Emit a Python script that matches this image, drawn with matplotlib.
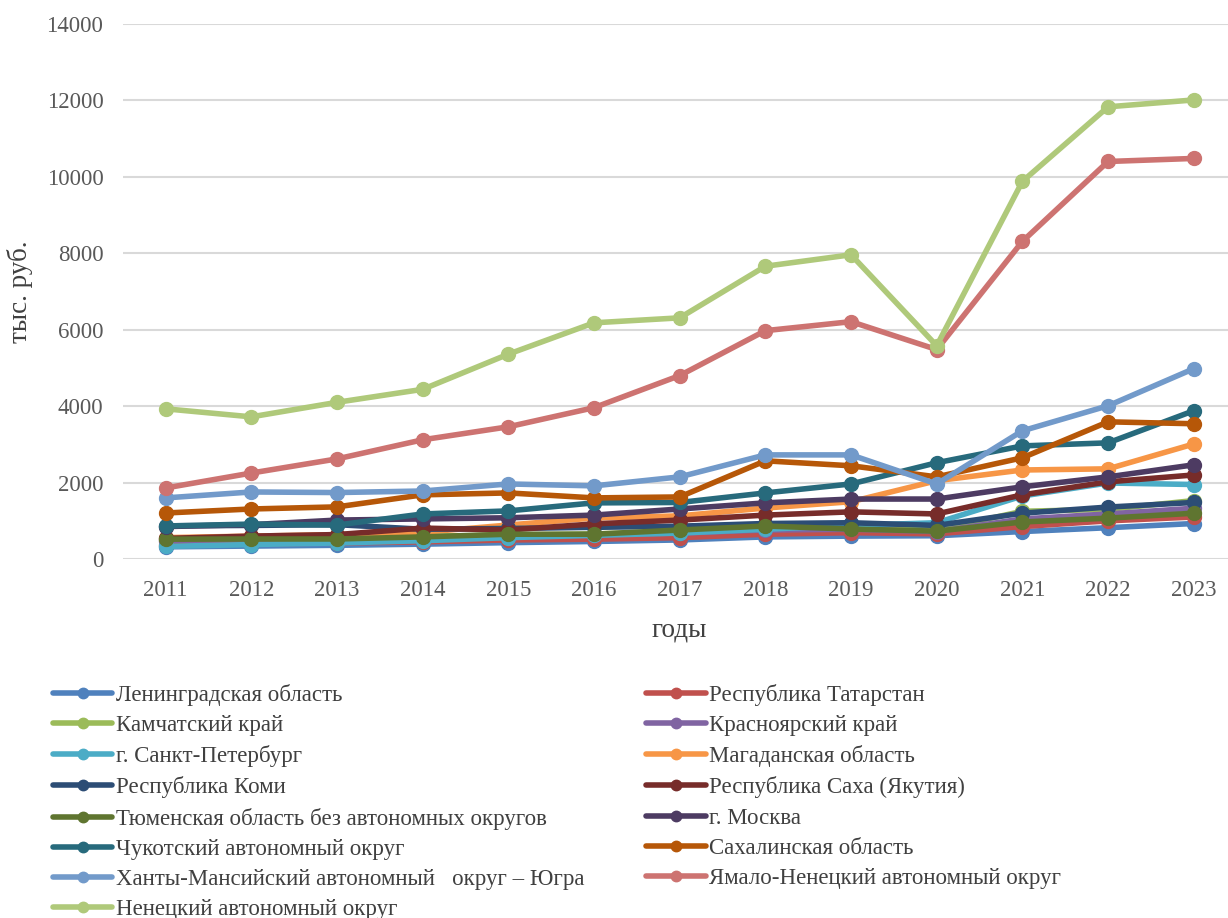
import matplotlib.pyplot as plt
import numpy as np

plt.rcParams["font.family"] = ["Liberation Serif", "DejaVu Serif"]

years = [str(y) for y in range(2011, 2024)]

# тыс. руб. по регионам, 2011-2023
leningrad = [320, 340, 360, 390, 430, 460, 500, 580, 600, 610, 720, 820, 930]
tatarstan = [380, 400, 420, 450, 500, 520, 560, 650, 690, 660, 850, 1000, 1100]
kamchatka = [500, 540, 570, 600, 620, 660, 700, 800, 820, 760, 1250, 1300, 1530]
krasnoyarsk = [480, 520, 540, 570, 600, 640, 680, 760, 780, 720, 1050, 1180, 1330]
spb = [330, 380, 420, 480, 560, 620, 680, 780, 880, 950, 1650, 1990, 1950]
magadan = [560, 600, 640, 700, 890, 1075, 1130, 1335, 1500, 2050, 2330, 2360, 3010]
komi = [870, 880, 900, 780, 800, 830, 860, 930, 950, 880, 1200, 1360, 1480]
sakha = [540, 600, 640, 810, 760, 920, 1020, 1150, 1235, 1180, 1680, 2020, 2200]
tyumen = [520, 525, 525, 580, 650, 650, 760, 865, 785, 730, 970, 1070, 1200]
moscow = [850, 900, 1020, 1050, 1080, 1150, 1310, 1470, 1570, 1570, 1890, 2150, 2465]
chukotka = [865, 915, 890, 1180, 1260, 1470, 1480, 1730, 1965, 2520, 2960, 3040, 3880]
sakhalin = [1205, 1310, 1365, 1680, 1730, 1600, 1625, 2570, 2440, 2150, 2650, 3590, 3540]
khmao = [1600, 1755, 1740, 1780, 1965, 1915, 2150, 2725, 2725, 1965, 3355, 4010, 4980]
yamal = [1860, 2250, 2620, 3120, 3460, 3960, 4800, 5975, 6210, 5480, 8310, 10400, 10480]
nenets = [3930, 3720, 4100, 4440, 5360, 6180, 6310, 7660, 7960, 5580, 9880, 11830, 12010]

series = [
    ("Ленинградская область", leningrad, "#4F81BD"),
    ("Республика Татарстан", tatarstan, "#C0504D"),
    ("Камчатский край", kamchatka, "#9BBB59"),
    ("Красноярский край", krasnoyarsk, "#8064A2"),
    ("г. Санкт-Петербург", spb, "#4BACC6"),
    ("Магаданская область", magadan, "#F79646"),
    ("Республика Коми", komi, "#2C4D75"),
    ("Республика Саха (Якутия)", sakha, "#772C2A"),
    ("Тюменская область без автономных округов", tyumen, "#5F7530"),
    ("г. Москва", moscow, "#4D3B62"),
    ("Чукотский автономный округ", chukotka, "#276A7C"),
    ("Сахалинская область", sakhalin, "#B65708"),
    ("Ханты-Мансийский автономный   округ – Югра", khmao, "#729ACA"),
    ("Ямало-Ненецкий автономный округ", yamal, "#CD7371"),
    ("Ненецкий автономный округ", nenets, "#AFC97A"),
]

fig = plt.figure(figsize=(12.28, 9.18), dpi=100)
ax = fig.add_axes([0.100, 0.391, 0.907, 0.583])

x = np.arange(len(years))
handles = []
for name, vals, color in series:
    (h,) = ax.plot(x, vals, color=color, lw=4, marker="o", ms=10,
                   solid_capstyle="round", label=name)
    handles.append(h)

ax.set_xlim(-0.5, 12.5)
ax.set_ylim(0, 14000)
ax.set_yticks(np.arange(0, 14001, 2000))
ax.set_xticks(x)
ax.set_xticklabels(years)
ax.grid(axis="y", color="#D9D9D9", lw=1.5)
ax.set_axisbelow(True)
for s in ax.spines.values():
    s.set_visible(False)
ax.tick_params(length=0, labelsize=16.5, labelcolor="#595959")
ax.tick_params(axis="x", pad=15)
ax.tick_params(axis="y", pad=14)

ax.set_ylabel("тыс. руб.", fontsize=19.5, color="#404040", labelpad=10)
ax.set_xlabel("годы", fontsize=19.5, color="#404040", labelpad=12)

# legend as two columns, filled row by row
left = handles[0::2]
right = handles[1::2]
common = dict(frameon=False, fontsize=16.5, handlelength=2.6, handletextpad=0.15,
              labelspacing=0.40, borderpad=0, borderaxespad=0, loc="upper left",
              markerscale=0.75)
leg1 = fig.legend(handles=left, labels=[h.get_label() for h in left],
                  bbox_to_anchor=(0.043, 0.255), **common)
leg2 = fig.legend(handles=right, labels=[h.get_label() for h in right],
                  bbox_to_anchor=(0.526, 0.255), **common)
for leg in (leg1, leg2):
    for t in leg.get_texts():
        t.set_color("#404040")

fig.savefig("out.png", dpi=100)
